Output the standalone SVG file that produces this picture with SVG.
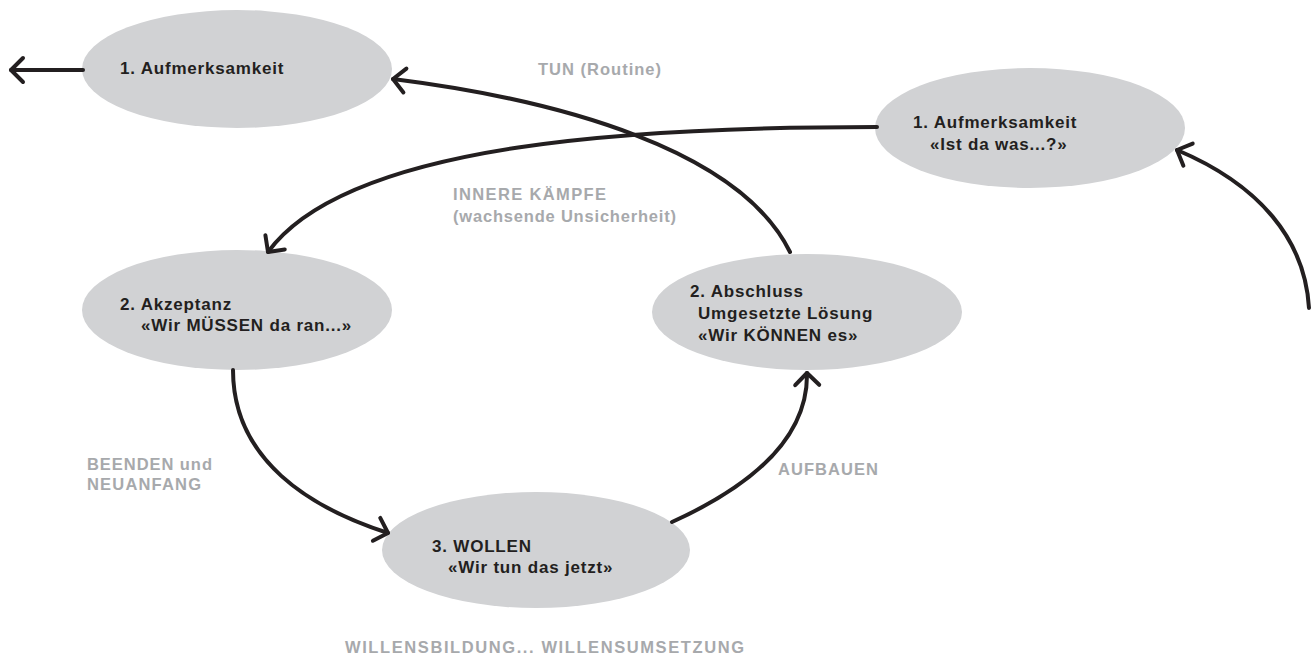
<svg xmlns="http://www.w3.org/2000/svg" width="1314" height="666" viewBox="0 0 1314 666">
<style>
.node ellipse{fill:#d1d2d4}
.node text{font-family:"Liberation Sans",Arial,sans-serif;font-weight:bold;font-size:17px;fill:#231f20;letter-spacing:0.8px}
.lbl{font-family:"Liberation Sans",Arial,sans-serif;font-weight:bold;font-size:16.5px;fill:#a7a9ac;letter-spacing:1px}
.conn path{fill:none;stroke:#231f20;stroke-width:4;stroke-linecap:round;marker-end:url(#ah)}
</style>
<defs>
<marker id="ah" markerUnits="userSpaceOnUse" orient="auto" viewBox="-16 -15 20 30" refX="0" refY="0" markerWidth="20" markerHeight="30" overflow="visible">
<path d="M-12,-12 L0,0 L-12,12" fill="none" stroke="#231f20" stroke-width="4" stroke-linecap="round" stroke-linejoin="round"/>
</marker>
</defs>
<rect width="1314" height="666" fill="#ffffff"/>
<g id="n1" class="node">
<ellipse cx="237" cy="69" rx="155" ry="59"/>
<text x="120" y="74">1. Aufmerksamkeit</text>
</g>
<g id="n2" class="node">
<ellipse cx="1030" cy="128" rx="155" ry="60"/>
<text x="913" y="128">1. Aufmerksamkeit</text>
<text x="930" y="150">«Ist da was...?»</text>
</g>
<g id="n3" class="node">
<ellipse cx="237" cy="310" rx="155" ry="60"/>
<text x="120" y="310">2. Akzeptanz</text>
<text x="141" y="331">«Wir MÜSSEN da ran...»</text>
</g>
<g id="n4" class="node">
<ellipse cx="807" cy="312" rx="155" ry="58"/>
<text x="690" y="297">2. Abschluss</text>
<text x="698" y="319">Umgesetzte Lösung</text>
<text x="698" y="341">«Wir KÖNNEN es»</text>
</g>
<g id="n5" class="node">
<ellipse cx="536" cy="550" rx="154" ry="58"/>
<text x="432" y="552">3. WOLLEN</text>
<text x="448" y="573">«Wir tun das jetzt»</text>
</g>
<g id="connectors" class="conn">
<path d="M83,70 L11,70"/>
<path d="M790,252 C740,150 560,100 393,79"/>
<path d="M877,127 C650,127 350,140 268,252"/>
<path d="M233,370 C233,460 310,508 388,533"/>
<path d="M672,522 C765,480 808,430 807,373"/>
<path d="M1309,308 C1305,240 1260,185 1177,150"/>
</g>
<g id="labels">
<text class="lbl" x="538" y="75" textLength="124" lengthAdjust="spacing">TUN (Routine)</text>
<text class="lbl" x="453" y="200" textLength="154" lengthAdjust="spacing">INNERE KÄMPFE</text>
<text class="lbl" x="453" y="222" textLength="224" lengthAdjust="spacing">(wachsende Unsicherheit)</text>
<text class="lbl" x="87" y="470" textLength="126" lengthAdjust="spacing">BEENDEN und</text>
<text class="lbl" x="87" y="490" textLength="115" lengthAdjust="spacing">NEUANFANG</text>
<text class="lbl" x="778" y="475" textLength="101" lengthAdjust="spacing">AUFBAUEN</text>
<text class="lbl" x="345" y="653" textLength="400" lengthAdjust="spacing">WILLENSBILDUNG... WILLENSUMSETZUNG</text>
</g>
</svg>
